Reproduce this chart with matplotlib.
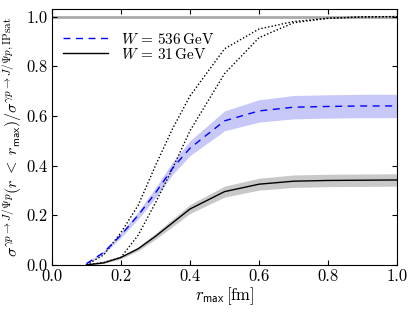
import matplotlib
matplotlib.use("Agg")
import matplotlib.pyplot as plt
import numpy as np

plt.rcParams['font.family'] = 'serif'
plt.rcParams['font.serif'] = ['cmr10', 'DejaVu Serif']
plt.rcParams['mathtext.fontset'] = 'cm'
plt.rcParams['axes.formatter.use_mathtext'] = True
plt.rcParams['font.size'] = 12

r = [0.1, 0.15, 0.2, 0.25, 0.3, 0.35, 0.4, 0.5, 0.6, 0.7, 0.8, 0.9, 1.0]
blue_mid = [0.005, 0.05, 0.12, 0.20, 0.29, 0.39, 0.47, 0.58, 0.62, 0.635, 0.638, 0.64, 0.64]
blue_err = [0.003, 0.006, 0.01, 0.015, 0.02, 0.025, 0.03, 0.04, 0.045, 0.047, 0.047, 0.047, 0.047]
black_mid = [0.0, 0.008, 0.03, 0.065, 0.115, 0.17, 0.225, 0.295, 0.325, 0.337, 0.34, 0.341, 0.342]
black_err = [0.0, 0.002, 0.005, 0.008, 0.012, 0.015, 0.018, 0.022, 0.024, 0.025, 0.025, 0.025, 0.025]
dot_left = [0.0, 0.04, 0.13, 0.24, 0.40, 0.55, 0.68, 0.87, 0.95, 0.98, 0.993, 0.998, 1.0]
dot_right = [0.0, 0.01, 0.03, 0.12, 0.25, 0.39, 0.54, 0.77, 0.915, 0.975, 0.993, 0.999, 1.0]

r = np.array(r)
bm, be = np.array(blue_mid), np.array(blue_err)
km, ke = np.array(black_mid), np.array(black_err)

fig = plt.figure(figsize=(4.15, 3.12), dpi=100)
ax = fig.add_axes([0.125, 0.151, 0.832, 0.819])

ax.axhline(1.0, color='#aaaaaa', lw=2, zorder=1)
ax.fill_between(r, bm - be, bm + be, color='#c8c8f8', lw=0, zorder=2)
ax.fill_between(r, km - ke, km + ke, color='#c8c8c8', lw=0, zorder=2)
ax.plot(r, dot_left, color='black', lw=1, ls=(0, (1, 1.5)), zorder=3)
ax.plot(r, dot_right, color='black', lw=1, ls=(0, (1, 1.5)), zorder=3)
ax.plot(r, bm, color='blue', lw=1, ls=(0, (5, 4)), label=r'$W\,=\,536\,\mathrm{GeV}$', zorder=4)
ax.plot(r, km, '-', color='black', lw=1, label=r'$W\,=\,31\,\mathrm{GeV}$', zorder=4)

ax.set_xlim(0, 1)
ax.set_ylim(0, 1.029)
ax.set_xticks(np.arange(0, 1.01, 0.2))
ax.set_yticks(np.arange(0, 1.01, 0.2))
ax.set_xticklabels(['0.0', '0.2', '0.4', '0.6', '0.8', '1.0'])
ax.set_yticklabels(['0.0', '0.2', '0.4', '0.6', '0.8', '1.0'])
ax.tick_params(direction='in', top=True, right=True, labelsize=12, pad=3)
ax.set_xlabel(r'$r_{\mathsf{max}}\,[\mathrm{fm}]$', fontsize=12, labelpad=1)
ax.set_ylabel(r'$\sigma^{\gamma p\to J/\Psi p}(r\;<\;r_{\mathsf{max}})/\sigma^{\gamma p\to J/\Psi p,\mathrm{IPsat}}$',
              fontsize=11.5, labelpad=2)
ax.legend(loc='upper left', frameon=False, fontsize=11, handlelength=3,
          borderaxespad=0.3, labelspacing=0.0, bbox_to_anchor=(0.0, 0.955))

fig.savefig('out.png', dpi=100)
